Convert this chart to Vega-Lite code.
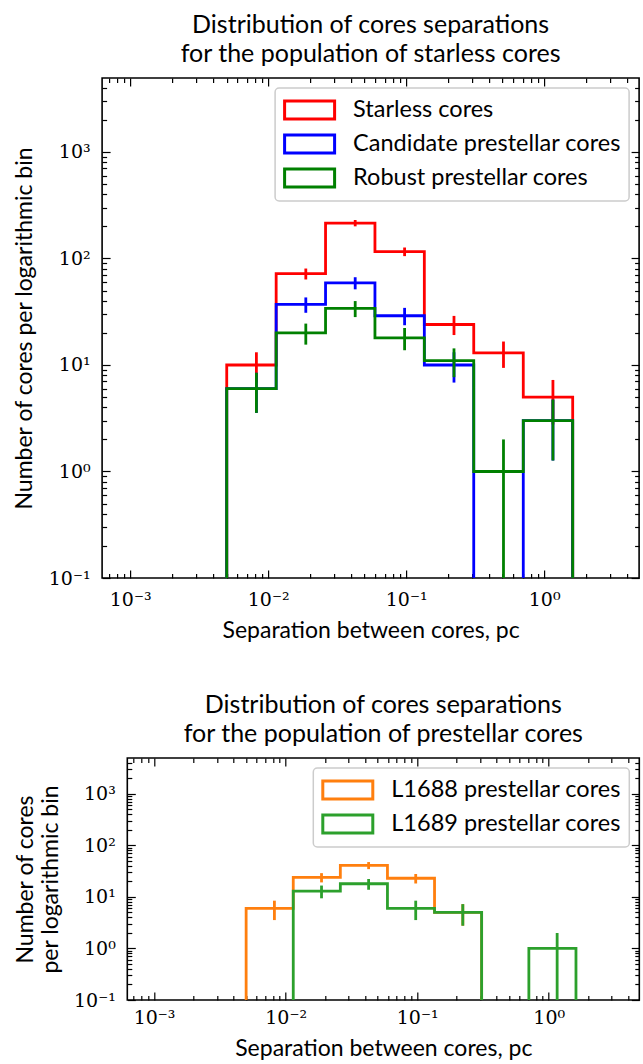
{
  "$schema": "https://vega.github.io/schema/vega-lite/v6.json",
  "padding": {"left": 12, "top": 12, "right": 0, "bottom": 0},
  "datasets": {
    "top_steps": [
      {"s":"Starless cores","i":0,"x":0.00501,"y":0.01},
      {"s":"Starless cores","i":1,"x":0.00501,"y":10},
      {"s":"Starless cores","i":2,"x":0.01143,"y":72},
      {"s":"Starless cores","i":3,"x":0.02606,"y":215},
      {"s":"Starless cores","i":4,"x":0.05943,"y":116},
      {"s":"Starless cores","i":5,"x":0.1355,"y":24},
      {"s":"Starless cores","i":6,"x":0.309,"y":13},
      {"s":"Starless cores","i":7,"x":0.7063,"y":5},
      {"s":"Starless cores","i":8,"x":1.611,"y":5},
      {"s":"Starless cores","i":9,"x":1.611,"y":0.01},
      {"s":"Candidate prestellar cores","i":0,"x":0.00501,"y":0.01},
      {"s":"Candidate prestellar cores","i":1,"x":0.00501,"y":6},
      {"s":"Candidate prestellar cores","i":2,"x":0.01143,"y":37},
      {"s":"Candidate prestellar cores","i":3,"x":0.02606,"y":59},
      {"s":"Candidate prestellar cores","i":4,"x":0.05943,"y":29},
      {"s":"Candidate prestellar cores","i":5,"x":0.1355,"y":10},
      {"s":"Candidate prestellar cores","i":6,"x":0.309,"y":0.01},
      {"s":"Candidate prestellar cores","i":7,"x":0.7063,"y":3},
      {"s":"Candidate prestellar cores","i":8,"x":1.611,"y":3},
      {"s":"Candidate prestellar cores","i":9,"x":1.611,"y":0.01},
      {"s":"Robust prestellar cores","i":0,"x":0.00501,"y":0.01},
      {"s":"Robust prestellar cores","i":1,"x":0.00501,"y":6},
      {"s":"Robust prestellar cores","i":2,"x":0.01143,"y":20},
      {"s":"Robust prestellar cores","i":3,"x":0.02606,"y":34},
      {"s":"Robust prestellar cores","i":4,"x":0.05943,"y":18},
      {"s":"Robust prestellar cores","i":5,"x":0.1355,"y":11},
      {"s":"Robust prestellar cores","i":6,"x":0.309,"y":1},
      {"s":"Robust prestellar cores","i":7,"x":0.7063,"y":3},
      {"s":"Robust prestellar cores","i":8,"x":1.611,"y":3},
      {"s":"Robust prestellar cores","i":9,"x":1.611,"y":0.01}
    ],
    "top_err": [
      {"s":"Starless cores","x":0.00822,"lo":6.838,"hi":13.162},
      {"s":"Starless cores","x":0.018745,"lo":63.515,"hi":80.485},
      {"s":"Starless cores","x":0.042745,"lo":200.337,"hi":229.663},
      {"s":"Starless cores","x":0.09747,"lo":105.23,"hi":126.77},
      {"s":"Starless cores","x":0.22225,"lo":19.101,"hi":28.899},
      {"s":"Starless cores","x":0.50765,"lo":9.394,"hi":16.606},
      {"s":"Starless cores","x":1.15865,"lo":2.764,"hi":7.236},
      {"s":"Candidate prestellar cores","x":0.00822,"lo":3.551,"hi":8.449},
      {"s":"Candidate prestellar cores","x":0.018745,"lo":30.917,"hi":43.083},
      {"s":"Candidate prestellar cores","x":0.042745,"lo":51.319,"hi":66.681},
      {"s":"Candidate prestellar cores","x":0.09747,"lo":23.615,"hi":34.385},
      {"s":"Candidate prestellar cores","x":0.22225,"lo":6.838,"hi":13.162},
      {"s":"Candidate prestellar cores","x":1.15865,"lo":1.268,"hi":4.732},
      {"s":"Robust prestellar cores","x":0.00822,"lo":3.551,"hi":8.449},
      {"s":"Robust prestellar cores","x":0.018745,"lo":15.528,"hi":24.472},
      {"s":"Robust prestellar cores","x":0.042745,"lo":28.169,"hi":39.831},
      {"s":"Robust prestellar cores","x":0.09747,"lo":13.757,"hi":22.243},
      {"s":"Robust prestellar cores","x":0.22225,"lo":7.683,"hi":14.317},
      {"s":"Robust prestellar cores","x":0.50765,"lo":0.01,"hi":2},
      {"s":"Robust prestellar cores","x":1.15865,"lo":1.268,"hi":4.732}
    ],
    "bot_steps": [
      {"s":"L1688 prestellar cores","i":0,"x":0.00501,"y":0.01},
      {"s":"L1688 prestellar cores","i":1,"x":0.00501,"y":6},
      {"s":"L1688 prestellar cores","i":2,"x":0.01143,"y":24},
      {"s":"L1688 prestellar cores","i":3,"x":0.02606,"y":41},
      {"s":"L1688 prestellar cores","i":4,"x":0.05943,"y":23},
      {"s":"L1688 prestellar cores","i":5,"x":0.1355,"y":5},
      {"s":"L1688 prestellar cores","i":6,"x":0.309,"y":0.01},
      {"s":"L1688 prestellar cores","i":7,"x":0.7063,"y":0.01},
      {"s":"L1688 prestellar cores","i":8,"x":1.611,"y":0.01},
      {"s":"L1688 prestellar cores","i":9,"x":1.611,"y":0.01},
      {"s":"L1689 prestellar cores","i":0,"x":0.00501,"y":0.01},
      {"s":"L1689 prestellar cores","i":1,"x":0.00501,"y":0.01},
      {"s":"L1689 prestellar cores","i":2,"x":0.01143,"y":13},
      {"s":"L1689 prestellar cores","i":3,"x":0.02606,"y":18},
      {"s":"L1689 prestellar cores","i":4,"x":0.05943,"y":6},
      {"s":"L1689 prestellar cores","i":5,"x":0.1355,"y":5},
      {"s":"L1689 prestellar cores","i":6,"x":0.309,"y":0.01},
      {"s":"L1689 prestellar cores","i":7,"x":0.7063,"y":1},
      {"s":"L1689 prestellar cores","i":8,"x":1.611,"y":1},
      {"s":"L1689 prestellar cores","i":9,"x":1.611,"y":0.01}
    ],
    "bot_err": [
      {"s":"L1688 prestellar cores","x":0.00822,"lo":3.551,"hi":8.449},
      {"s":"L1688 prestellar cores","x":0.018745,"lo":19.101,"hi":28.899},
      {"s":"L1688 prestellar cores","x":0.042745,"lo":34.597,"hi":47.403},
      {"s":"L1688 prestellar cores","x":0.09747,"lo":18.204,"hi":27.796},
      {"s":"L1688 prestellar cores","x":0.22225,"lo":2.764,"hi":7.236},
      {"s":"L1689 prestellar cores","x":0.018745,"lo":9.394,"hi":16.606},
      {"s":"L1689 prestellar cores","x":0.042745,"lo":13.757,"hi":22.243},
      {"s":"L1689 prestellar cores","x":0.09747,"lo":3.551,"hi":8.449},
      {"s":"L1689 prestellar cores","x":0.22225,"lo":2.764,"hi":7.236},
      {"s":"L1689 prestellar cores","x":1.15865,"lo":0.01,"hi":2}
    ]
  },
  "spacing": 49,
  "center": true,
  "vconcat": [
    {
      "title": {"text": ["Distribution of cores separations", "for the population of starless cores"], "offset": 10},
      "width": 537,
      "height": 500,
      "resolve": {"axis": {"x": "independent", "y": "independent"}},
      "layer": [
        {
          "data": {"name": "top_steps"},
          "transform": [{"filter": "datum.s == 'Starless cores'"}],
          "mark": {"type": "line", "interpolate": "step-after", "clip": true, "strokeWidth": 2.8, "strokeJoin": "miter"},
          "encoding": {
            "x": {"field": "x", "type": "quantitative", "scale": {"type": "log", "domain": [0.000626, 4.88], "nice": false},
                  "axis": {"orient": "bottom", "values": [0.001, 0.01, 0.1, 1], "tickSize": -8, "labelPadding": 20, "labelOverlap": false, "labelFlush": false,
                           "labelExpr": "datum.value < 0.005 ? '10⁻³' : datum.value < 0.05 ? '10⁻²' : datum.value < 0.5 ? '10⁻¹' : '10⁰'",
                           "title": "Separation between cores, pc", "titlePadding": 10}},
            "y": {"field": "y", "type": "quantitative", "scale": {"type": "log", "domain": [0.1, 4950], "nice": false},
                  "axis": {"orient": "left", "values": [0.1, 1, 10, 100, 1000], "tickSize": -8, "labelPadding": 20, "labelOverlap": false, "labelFlush": false,
                           "labelExpr": "datum.value < 0.5 ? '10⁻¹' : datum.value < 5 ? '10⁰' : datum.value < 50 ? '10¹' : datum.value < 500 ? '10²' : '10³'",
                           "title": "Number of cores per logarithmic bin", "titlePadding": 12}},
            "color": {"field": "s", "type": "nominal", "title": null,
                      "scale": {"domain": ["Starless cores", "Candidate prestellar cores", "Robust prestellar cores"], "range": ["#ff0000", "#0000ff", "#008000"]},
                      "legend": {"symbolType": "M-1,-0.72H3V0.72H-1Z", "symbolSize": 625, "symbolStrokeWidth": 3, "symbolFillColor": "transparent"}},
            "order": {"field": "i", "type": "quantitative"}
          }
        },
        {
          "data": {"name": "top_err"},
          "transform": [{"filter": "datum.s == 'Starless cores'"}],
          "mark": {"type": "rule", "clip": true, "strokeWidth": 2.8},
          "encoding": {
            "x": {"field": "x", "type": "quantitative", "scale": {"type": "log", "domain": [0.000626, 4.88], "nice": false},
                  "axis": {"orient": "bottom", "values": [0.0007,0.0008,0.0009,0.002,0.003,0.004,0.005,0.006,0.007,0.008,0.009,0.02,0.03,0.04,0.05,0.06,0.07,0.08,0.09,0.2,0.3,0.4,0.5,0.6,0.7,0.8,0.9,2,3,4], "tickSize": -4.5, "labels": false, "title": null}},
            "y": {"field": "lo", "type": "quantitative", "scale": {"type": "log", "domain": [0.1, 4950], "nice": false},
                  "axis": {"orient": "left", "values": [0.2,0.3,0.4,0.5,0.6,0.7,0.8,0.9,2,3,4,5,6,7,8,9,20,30,40,50,60,70,80,90,200,300,400,500,600,700,800,900,2000,3000,4000], "tickSize": -4.5, "labels": false, "title": null}},
            "y2": {"field": "hi"},
            "color": {"field": "s", "type": "nominal", "title": null}
          }
        },
        {
          "data": {"name": "top_steps"},
          "transform": [{"filter": "datum.s == 'Candidate prestellar cores'"}],
          "mark": {"type": "line", "interpolate": "step-after", "clip": true, "strokeWidth": 2.8, "strokeJoin": "miter"},
          "encoding": {
            "x": {"field": "x", "type": "quantitative", "scale": {"type": "log", "domain": [0.000626, 4.88], "nice": false},
                  "axis": {"orient": "top", "values": [0.001, 0.01, 0.1, 1], "tickSize": -8, "labels": false, "title": null}},
            "y": {"field": "y", "type": "quantitative", "scale": {"type": "log", "domain": [0.1, 4950], "nice": false},
                  "axis": {"orient": "right", "values": [0.1, 1, 10, 100, 1000], "tickSize": -8, "labels": false, "title": null, "minExtent": 26}},
            "color": {"field": "s", "type": "nominal", "title": null},
            "order": {"field": "i", "type": "quantitative"}
          }
        },
        {
          "data": {"name": "top_err"},
          "transform": [{"filter": "datum.s == 'Candidate prestellar cores'"}],
          "mark": {"type": "rule", "clip": true, "strokeWidth": 2.8},
          "encoding": {
            "x": {"field": "x", "type": "quantitative", "scale": {"type": "log", "domain": [0.000626, 4.88], "nice": false},
                  "axis": {"orient": "top", "values": [0.0007,0.0008,0.0009,0.002,0.003,0.004,0.005,0.006,0.007,0.008,0.009,0.02,0.03,0.04,0.05,0.06,0.07,0.08,0.09,0.2,0.3,0.4,0.5,0.6,0.7,0.8,0.9,2,3,4], "tickSize": -4.5, "labels": false, "title": null}},
            "y": {"field": "lo", "type": "quantitative", "scale": {"type": "log", "domain": [0.1, 4950], "nice": false},
                  "axis": {"orient": "right", "values": [0.2,0.3,0.4,0.5,0.6,0.7,0.8,0.9,2,3,4,5,6,7,8,9,20,30,40,50,60,70,80,90,200,300,400,500,600,700,800,900,2000,3000,4000], "tickSize": -4.5, "labels": false, "title": null}},
            "y2": {"field": "hi"},
            "color": {"field": "s", "type": "nominal", "title": null}
          }
        },
        {
          "data": {"name": "top_steps"},
          "transform": [{"filter": "datum.s == 'Robust prestellar cores'"}],
          "mark": {"type": "line", "interpolate": "step-after", "clip": true, "strokeWidth": 2.8, "strokeJoin": "miter"},
          "encoding": {
            "x": {"field": "x", "type": "quantitative", "axis": null},
            "y": {"field": "y", "type": "quantitative", "axis": null},
            "color": {"field": "s", "type": "nominal", "title": null},
            "order": {"field": "i", "type": "quantitative"}
          }
        },
        {
          "data": {"name": "top_err"},
          "transform": [{"filter": "datum.s == 'Robust prestellar cores'"}],
          "mark": {"type": "rule", "clip": true, "strokeWidth": 2.8},
          "encoding": {
            "x": {"field": "x", "type": "quantitative", "axis": null},
            "y": {"field": "lo", "type": "quantitative", "axis": null},
            "y2": {"field": "hi"},
            "color": {"field": "s", "type": "nominal", "title": null}
          }
        }
      ]
    },
    {
      "title": {"text": ["Distribution of cores separations", "for the population of prestellar cores"], "offset": 10},
      "width": 512,
      "height": 242,
      "resolve": {"axis": {"x": "independent", "y": "independent"}},
      "layer": [
        {
          "data": {"name": "bot_steps"},
          "transform": [{"filter": "datum.s == 'L1688 prestellar cores'"}],
          "mark": {"type": "line", "interpolate": "step-after", "clip": true, "strokeWidth": 2.8, "strokeJoin": "miter"},
          "encoding": {
            "x": {"field": "x", "type": "quantitative", "scale": {"type": "log", "domain": [0.000626, 4.88], "nice": false},
                  "axis": {"orient": "bottom", "values": [0.001, 0.01, 0.1, 1], "tickSize": -8, "labelPadding": 16, "labelOverlap": false, "labelFlush": false,
                           "labelExpr": "datum.value < 0.005 ? '10⁻³' : datum.value < 0.05 ? '10⁻²' : datum.value < 0.5 ? '10⁻¹' : '10⁰'",
                           "title": "Separation between cores, pc", "titlePadding": 10}},
            "y": {"field": "y", "type": "quantitative", "scale": {"type": "log", "domain": [0.1, 4950], "nice": false},
                  "axis": {"orient": "left", "values": [0.1, 1, 10, 100, 1000], "tickSize": -8, "labelPadding": 20, "labelOverlap": false, "labelFlush": false,
                           "labelExpr": "datum.value < 0.5 ? '10⁻¹' : datum.value < 5 ? '10⁰' : datum.value < 50 ? '10¹' : datum.value < 500 ? '10²' : '10³'",
                           "title": ["Number of cores", "per logarithmic bin"], "titlePadding": 11, "titleLineHeight": 25}},
            "color": {"field": "s", "type": "nominal", "title": null,
                      "scale": {"domain": ["L1688 prestellar cores", "L1689 prestellar cores"], "range": ["#ff7f0e", "#2ca02c"]},
                      "legend": {"symbolType": "M-1,-0.72H3V0.72H-1Z", "symbolSize": 625, "symbolStrokeWidth": 3, "symbolFillColor": "transparent"}},
            "order": {"field": "i", "type": "quantitative"}
          }
        },
        {
          "data": {"name": "bot_err"},
          "transform": [{"filter": "datum.s == 'L1688 prestellar cores'"}],
          "mark": {"type": "rule", "clip": true, "strokeWidth": 2.8},
          "encoding": {
            "x": {"field": "x", "type": "quantitative", "scale": {"type": "log", "domain": [0.000626, 4.88], "nice": false},
                  "axis": {"orient": "bottom", "values": [0.0007,0.0008,0.0009,0.002,0.003,0.004,0.005,0.006,0.007,0.008,0.009,0.02,0.03,0.04,0.05,0.06,0.07,0.08,0.09,0.2,0.3,0.4,0.5,0.6,0.7,0.8,0.9,2,3,4], "tickSize": -4.5, "labels": false, "title": null}},
            "y": {"field": "lo", "type": "quantitative", "scale": {"type": "log", "domain": [0.1, 4950], "nice": false},
                  "axis": {"orient": "left", "values": [0.2,0.3,0.4,0.5,0.6,0.7,0.8,0.9,2,3,4,5,6,7,8,9,20,30,40,50,60,70,80,90,200,300,400,500,600,700,800,900,2000,3000,4000], "tickSize": -4.5, "labels": false, "title": null}},
            "y2": {"field": "hi"},
            "color": {"field": "s", "type": "nominal", "title": null}
          }
        },
        {
          "data": {"name": "bot_steps"},
          "transform": [{"filter": "datum.s == 'L1689 prestellar cores'"}],
          "mark": {"type": "line", "interpolate": "step-after", "clip": true, "strokeWidth": 2.8, "strokeJoin": "miter"},
          "encoding": {
            "x": {"field": "x", "type": "quantitative", "scale": {"type": "log", "domain": [0.000626, 4.88], "nice": false},
                  "axis": {"orient": "top", "values": [0.001, 0.01, 0.1, 1], "tickSize": -8, "labels": false, "title": null}},
            "y": {"field": "y", "type": "quantitative", "scale": {"type": "log", "domain": [0.1, 4950], "nice": false},
                  "axis": {"orient": "right", "values": [0.1, 1, 10, 100, 1000], "tickSize": -8, "labels": false, "title": null}},
            "color": {"field": "s", "type": "nominal", "title": null},
            "order": {"field": "i", "type": "quantitative"}
          }
        },
        {
          "data": {"name": "bot_err"},
          "transform": [{"filter": "datum.s == 'L1689 prestellar cores'"}],
          "mark": {"type": "rule", "clip": true, "strokeWidth": 2.8},
          "encoding": {
            "x": {"field": "x", "type": "quantitative", "scale": {"type": "log", "domain": [0.000626, 4.88], "nice": false},
                  "axis": {"orient": "top", "values": [0.0007,0.0008,0.0009,0.002,0.003,0.004,0.005,0.006,0.007,0.008,0.009,0.02,0.03,0.04,0.05,0.06,0.07,0.08,0.09,0.2,0.3,0.4,0.5,0.6,0.7,0.8,0.9,2,3,4], "tickSize": -4.5, "labels": false, "title": null}},
            "y": {"field": "lo", "type": "quantitative", "scale": {"type": "log", "domain": [0.1, 4950], "nice": false},
                  "axis": {"orient": "right", "values": [0.2,0.3,0.4,0.5,0.6,0.7,0.8,0.9,2,3,4,5,6,7,8,9,20,30,40,50,60,70,80,90,200,300,400,500,600,700,800,900,2000,3000,4000], "tickSize": -4.5, "labels": false, "title": null}},
            "y2": {"field": "hi"},
            "color": {"field": "s", "type": "nominal", "title": null}
          }
        }
      ]
    }
  ],
  "resolve": {"scale": {"color": "independent", "x": "independent", "y": "independent"}, "legend": {"color": "independent"}},
  "config": {
    "view": {"stroke": "black", "strokeWidth": 1.6},
    "axis": {"domain": false, "grid": false, "tickColor": "black", "tickWidth": 1.2, "labelFont": "DejaVu Serif", "labelFontSize": 19, "labelColor": "black",
             "titleFont": "Lato", "titleFontSize": 23, "titleFontWeight": "normal", "titleColor": "black", "minExtent": 0},
    "axisY": {"minExtent": 0},
    "title": {"font": "Lato", "fontSize": 25, "fontWeight": "normal", "color": "black", "lineHeight": 29, "anchor": "middle"},
    "legend": {"orient": "top-right", "offset": 10, "padding": 8, "strokeColor": "#cccccc", "strokeWidth": 1.5, "cornerRadius": 4, "fillColor": "white",
               "labelFont": "Lato", "labelFontSize": 23.5, "labelColor": "black", "labelOffset": 42, "rowPadding": 4, "labelLimit": 400}
  }
}
